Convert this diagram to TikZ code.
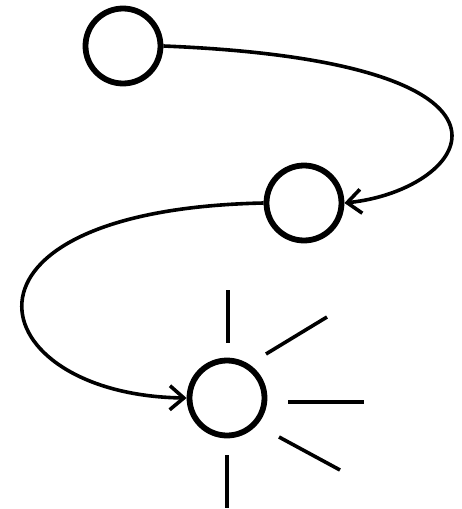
\documentclass[tikz,border=0pt]{standalone}
\usetikzlibrary{arrows.meta}
\begin{document}
\begin{tikzpicture}[x=1pt,y=-1pt,
  state/.style={circle,draw,line width=5.8pt,minimum size=75pt,inner sep=0pt},
  link/.style={line width=3.6pt,-{Straight Barb[length=14pt,width=24pt]}},
  ray/.style={line width=3.6pt}]
\useasboundingbox (0,0) rectangle (461,509);
\node[state] (a) at (123,46) {};
\node[state] (b) at (304,203) {};
\node[state] (c) at (227,398) {};
\draw[link] (a.east) .. controls (560,62) and (470,190) .. (b.east);
\draw[link] (b.west) .. controls (-70,210) and (-20,395) .. (c.west);
\draw[ray] (228,290) -- (228,343);
\draw[ray] (266,354) -- (327,317);
\draw[ray] (288,402) -- (364,402);
\draw[ray] (279,437) -- (340,470);
\draw[ray] (227,455) -- (227,508);
\end{tikzpicture}
\end{document}
